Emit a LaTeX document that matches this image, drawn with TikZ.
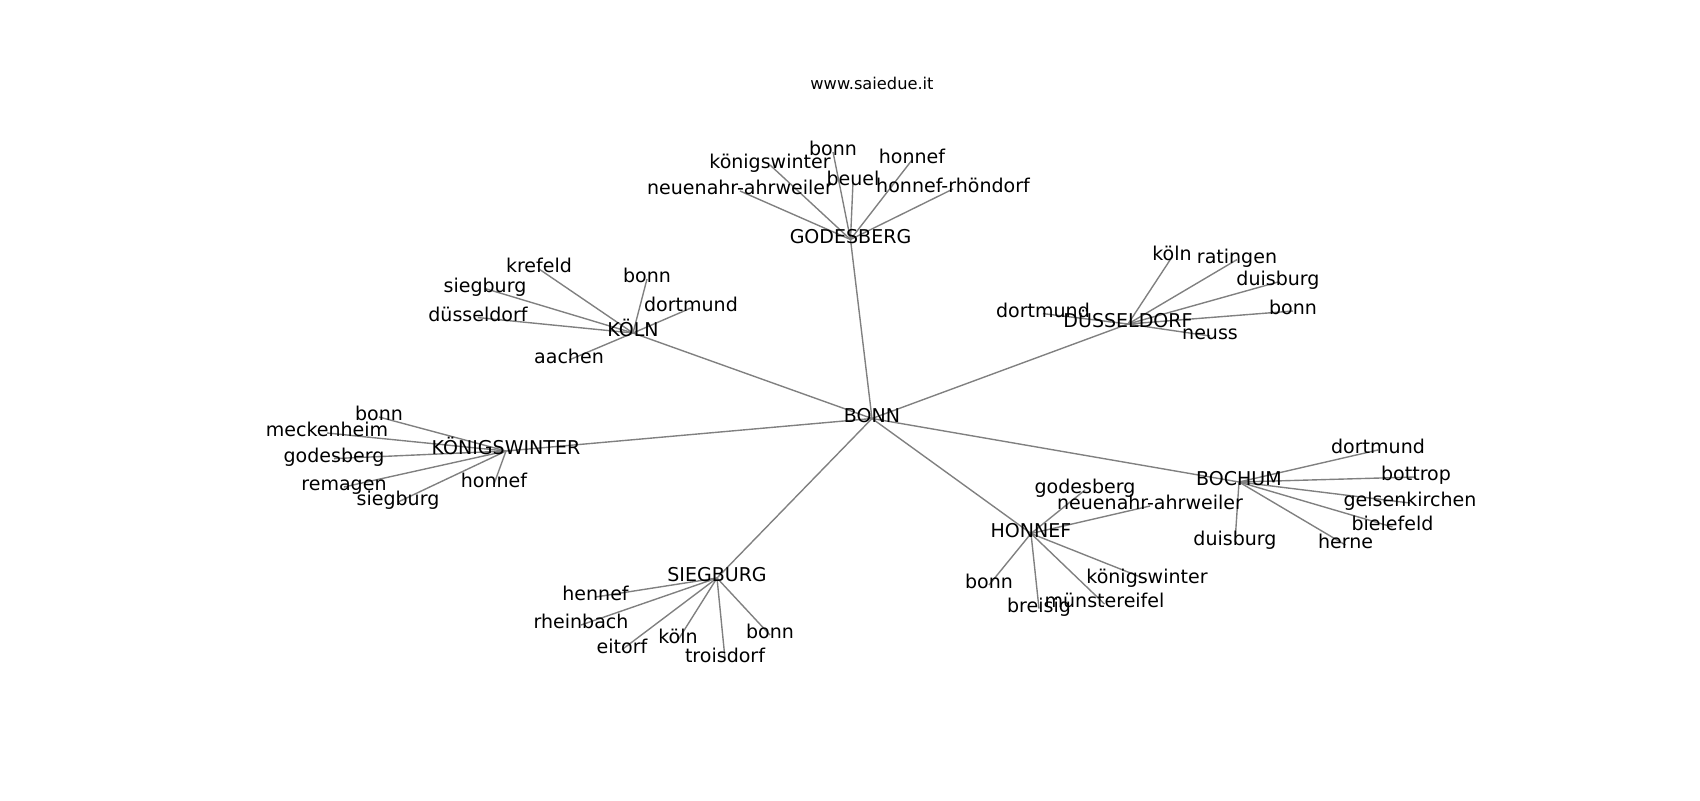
\documentclass[tikz,border=0pt]{standalone}
\usepackage{fontspec}
\setmainfont{DejaVu Sans}
\usetikzlibrary{backgrounds}
\newcommand{\cityfont}{\fontsize{13.7}{16}\selectfont}
\newcommand{\titlefont}{\fontsize{11.7}{14}\selectfont}
\tikzset{
  city/.style={inner sep=0pt, text height=0.76em, text depth=0.24em, font=\cityfont},
  link/.style={draw=gray, line width=1pt}
}

\begin{document}
\begin{tikzpicture}[x=0.72pt, y=-0.72pt]
      \useasboundingbox (0,-2) rectangle (1700,798);
      \node[font=\titlefont, anchor=base, inner sep=0pt] (title) at (872,87.3) {www.saiedue.it};
      % centre and hubs
      \node[city] (bonn) at (872,416.5) {BONN};
      \node[city] (god) at (850.5,237.5) {GODESBERG};
      \node[city] (koe) at (633,331) {KÖLN};
      \node[city] (due) at (1128,322) {DÜSSELDORF};
      \node[city] (kw) at (506,449) {KÖNIGSWINTER};
      \node[city] (boc) at (1239,480) {BOCHUM};
      \node[city] (sie) at (717,576) {SIEGBURG};
      \node[city] (hon) at (1031,531.5) {HONNEF};
      % godesberg
      \node[city] (god1) at (833,150) {bonn};
      \node[city] (god2) at (770,163) {königswinter};
      \node[city] (god3) at (912,158) {honnef};
      \node[city] (god4) at (853,180) {beuel};
      \node[city] (god5) at (740,189) {neuenahr-ahrweiler};
      \node[city] (god6) at (953,187) {honnef-rhöndorf};
      % köln
      \node[city] (koe1) at (539,267) {krefeld};
      \node[city] (koe2) at (485,286.5) {siegburg};
      \node[city] (koe3) at (478,315.6) {düsseldorf};
      \node[city] (koe4) at (647,277) {bonn};
      \node[city] (koe5) at (691,306) {dortmund};
      \node[city] (koe6) at (569,358) {aachen};
      % düsseldorf
      \node[city] (due1) at (1172,255) {köln};
      \node[city] (due2) at (1237,257.6) {ratingen};
      \node[city] (due3) at (1278,280) {duisburg};
      \node[city] (due4) at (1293,309) {bonn};
      \node[city] (due5) at (1043,311.6) {dortmund};
      \node[city] (due6) at (1210,334) {neuss};
      % königswinter
      \node[city] (kw1) at (379,415) {bonn};
      \node[city] (kw2) at (327,431) {meckenheim};
      \node[city] (kw3) at (334,456.6) {godesberg};
      \node[city] (kw4) at (344,485) {remagen};
      \node[city] (kw5) at (398,500) {siegburg};
      \node[city] (kw6) at (494,482) {honnef};
      % bochum
      \node[city] (boc1) at (1378,448) {dortmund};
      \node[city] (boc2) at (1416,475) {bottrop};
      \node[city] (boc3) at (1410,501) {gelsenkirchen};
      \node[city] (boc4) at (1392.5,525) {bielefeld};
      \node[city] (boc5) at (1345.5,543) {herne};
      \node[city] (boc6) at (1235,540) {duisburg};
      % siegburg
      \node[city] (sie1) at (595.5,595) {hennef};
      \node[city] (sie2) at (581,623) {rheinbach};
      \node[city] (sie3) at (622,647.6) {eitorf};
      \node[city] (sie4) at (678,638) {köln};
      \node[city] (sie5) at (725,656.6) {troisdorf};
      \node[city] (sie6) at (770,633) {bonn};
      % honnef
      \node[city] (hon1) at (1085,488) {godesberg};
      \node[city] (hon2) at (1150,504) {neuenahr-ahrweiler};
      \node[city] (hon3) at (989,583) {bonn};
      \node[city] (hon4) at (1039,606.6) {breisig};
      \node[city] (hon5) at (1147,577.6) {königswinter};
      \node[city] (hon6) at (1104.5,602) {münstereifel};
      \begin{pgfonlayer}{background}
      \foreach \h in {god, koe, due, kw, boc, sie, hon} {
	\path[link] (bonn.center) -- (\h.center);
	\foreach \i in {1,...,6} {
	  \path[link] (\h.center) -- (\h\i.center);
	};
      };
      \end{pgfonlayer}
    \end{tikzpicture}
\end{document}
